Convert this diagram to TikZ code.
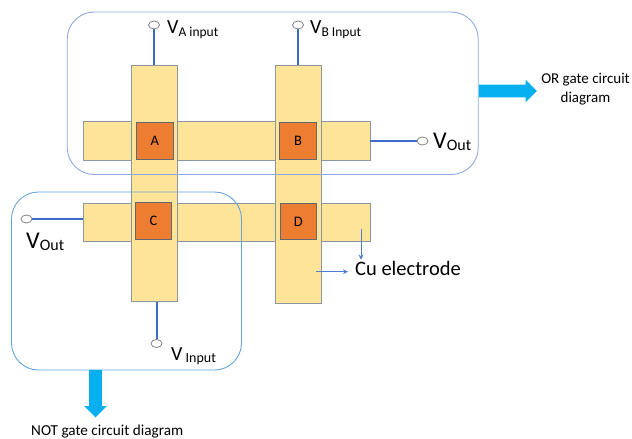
\documentclass[tikz,border=0pt]{standalone}
\usepackage{fontspec}
\setmainfont{Carlito}
\usetikzlibrary{arrows.meta,positioning,shapes.arrows,shapes.geometric}
\definecolor{pad}{RGB}{253,228,152}
\definecolor{padline}{RGB}{140,150,160}
\definecolor{cell}{RGB}{237,125,49}
\definecolor{wire}{RGB}{62,107,196}
\definecolor{pointer}{RGB}{80,125,210}
\definecolor{orframe}{RGB}{140,170,225}
\definecolor{notframe}{RGB}{100,165,220}
\definecolor{bigarrow}{RGB}{5,175,240}
\newcommand{\fsize}[1]{\fontsize{#1}{#1}\selectfont}
\newcommand{\volt}[3]{{\fsize{#1}V}\raisebox{-0.45ex}{\fsize{#2}#3}}
\tikzset{
  >={Stealth[length=5pt,width=5pt]},
  hbar/.style={draw=padline,fill=pad,line width=0.8pt,minimum width=286.5pt,minimum height=#1,inner sep=0pt},
  hbar/.default=39pt,
  vbar/.style={draw=padline,fill=pad,line width=0.8pt,minimum width=46pt,minimum height=#1,inner sep=0pt},
  vbar/.default=236.5pt,
  cell/.style={draw=padline!70!black,fill=cell,line width=0.8pt,minimum size=36.5pt,inner sep=0pt,font=\fsize{14.5}},
  frame/.style={draw=#1,line width=0.9pt,rounded corners=27pt,inner sep=0pt},
  port/.style={ellipse,draw=black!50,fill=white,line width=0.8pt,minimum width=11pt,minimum height=8pt,inner sep=0pt},
  lead/.style={draw=wire,line width=2pt},
  tag/.style={inner sep=0pt,align=center},
  callout/.style={->,draw=pointer,line width=1pt},
  block/.style={single arrow,fill=bigarrow,inner xsep=0pt,inner ysep=6.2pt,minimum width=22.5pt,single arrow head extend=5pt,
    single arrow head indent=0pt,minimum height=#1},
}
\begin{document}
\begin{tikzpicture}[x=1pt,y=-1pt]
  \useasboundingbox (0,0) rectangle (632,439);
  % strips
  \node[hbar] (top) at (226.75,141) {};
  \node[hbar,minimum height=38pt] (low) at (226.75,222.5) {};
  \node[vbar] (left) at (154.5,183.25) {};
  \node[vbar,minimum height=238pt] (right) at (298.5,184) {};
  % crossings
  \node[cell] (A) at (154.75,141) {A};
  \node[cell] (B) at (298,141) {B};
  \node[cell] (C) at (153.5,220.75) {C};
  \node[cell] (D) at (298.25,221.5) {D};
  % terminals
  \node[port] (va) at (154,25) {};
  \node[port] (vb) at (298,25) {};
  \node[port] (vor) at (422.5,141) {};
  \node[port] (vnot) at (26.5,219) {};
  \node[port] (vin) at (156.5,343.5) {};
  \draw[lead] (va) -- (va |- left.north);
  \draw[lead] (vb) -- (vb |- right.north);
  \draw[lead] (top.east) -- (vor);
  \draw[lead] (vnot) -- (vnot -| low.west);
  \draw[lead] (vin) -- (vin |- left.south);
  % gate outlines
  \node[frame=orframe,minimum width=411pt,minimum height=162.5pt] (orgate) at (272.75,93.25) {};
  \node[frame=notframe,minimum width=230pt,minimum height=178pt] (notgate) at (126.5,281) {};
  % labels
  \node[tag,anchor=base west] (lva) at (167,34) {\volt{20}{13.5}{A input}};
  \node[tag,anchor=base west] (lvb) at (310,34) {\volt{20}{13.5}{B Input}};
  \node[tag,anchor=base west] (lvor) at (433,148) {\volt{24}{16}{Out}};
  \node[tag,anchor=base west] (lvnot) at (26,248) {\volt{24}{16}{Out}};
  \node[tag,anchor=base west] (lvin) at (171,360) {\volt{20}{14}{ Input}};
  \node[tag,font=\fsize{20.5},anchor=base west] (cu) at (355,275) {Cu electrode};
  \node[tag,font=\fsize{15},anchor=base] (ortag) at (585.5,102) {OR gate circuit\\[4pt]diagram};
  \node[tag,font=\fsize{15.2},anchor=base west] (nottag) at (31,435) {NOT gate circuit diagram};
  % callouts
  \coordinate (cua) at (361,229);
  \coordinate (cub) at (316,271.7);
  \draw[callout] (cua) -- ([yshift=1pt]cua |- cu.north);
  \draw[callout] (cub) -- ([xshift=-7pt]cub -| cu.west);
  % block arrows
  \node[block=58pt,anchor=tail] (orarrow) at (orgate.east |- 0,91) {};
  \node[block=47.5pt,inner xsep=6.2pt,inner ysep=0pt,shape border rotate=270,anchor=tail] (notarrow) at (95.5,369.7) {};
\end{tikzpicture}
\end{document}
